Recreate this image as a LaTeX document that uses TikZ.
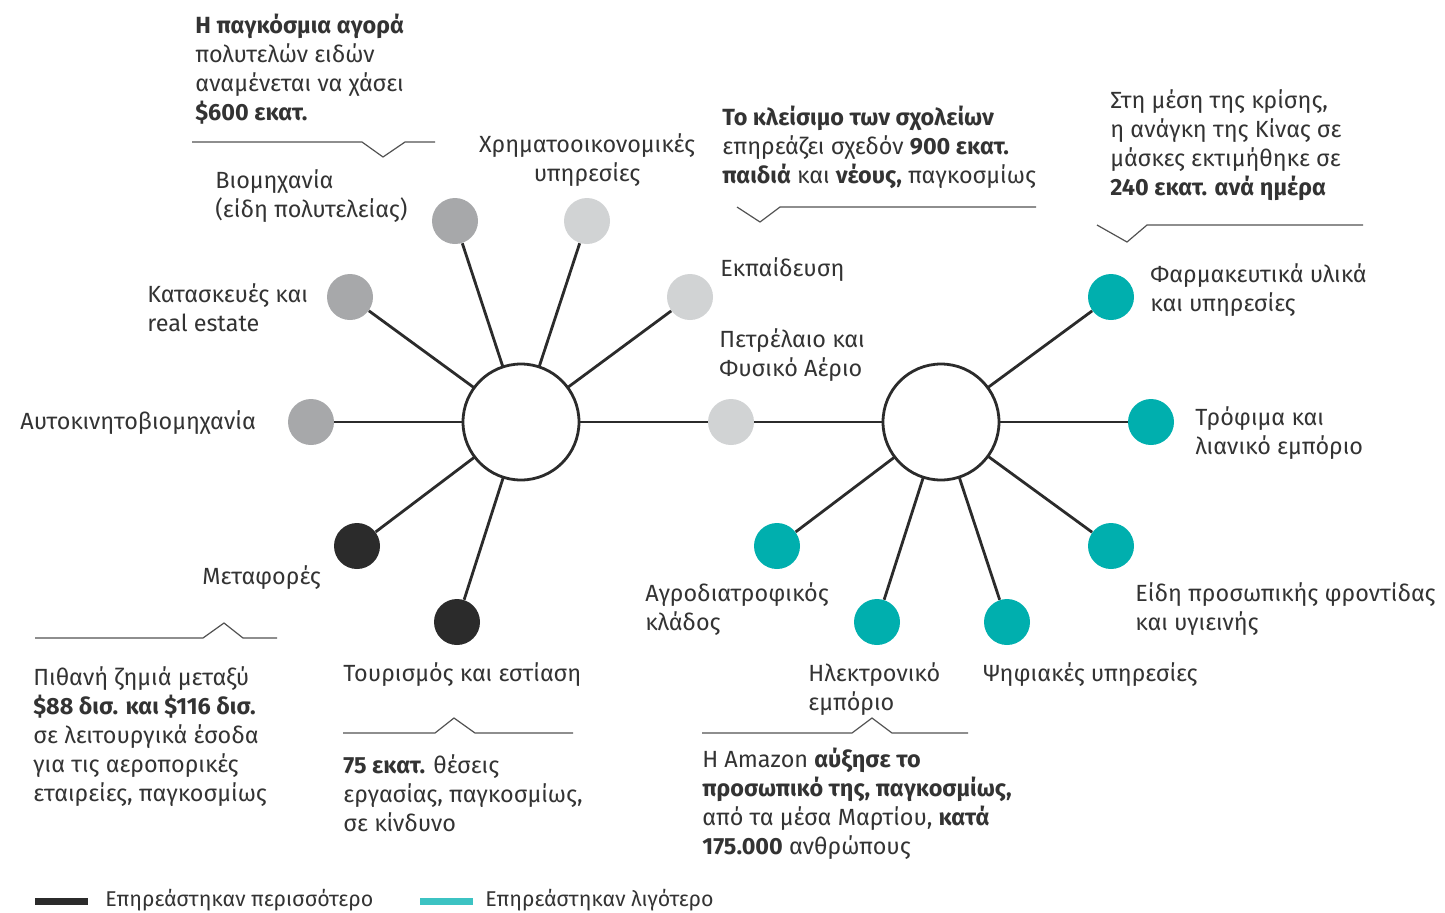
\documentclass[tikz,border=0pt]{standalone}
\usepackage{fontspec}
\setmainfont{Fira Sans}
\usepackage{tikz}
\usetikzlibrary{positioning}
\definecolor{ink}{HTML}{333333}
\definecolor{spoke}{HTML}{2B2B2B}
\definecolor{darkc}{HTML}{2B2B2B}
\definecolor{midgr}{HTML}{A7A8AA}
\definecolor{ltgr}{HTML}{D1D3D4}
\definecolor{tealc}{HTML}{00AFAE}
\definecolor{legteal}{HTML}{3CC3C3}
\tikzset{
  hub/.style={circle,draw=spoke,line width=1.4pt,fill=white,minimum size=58pt,inner sep=0pt},
  sector/.style={circle,minimum size=23pt,inner sep=0pt},
  worst/.style={sector,fill=darkc},
  hit/.style={sector,fill=midgr},
  mild/.style={sector,fill=ltgr},
  spared/.style={sector,fill=tealc},
  lbl/.style={anchor=north west,inner sep=0pt,align=left,text=ink,font=\fontsize{11.7}{14.5}\selectfont},
  line/.style={draw=spoke,line width=1.4pt},
  rule/.style={draw=ink!85,line width=0.6pt},
  key/.style={rectangle,inner sep=0pt,minimum width=26.5pt,minimum height=3.5pt},
  keytext/.style={lbl,anchor=west,font=\fontsize{10.7}{13}\selectfont},
}

\begin{document}
\begin{tikzpicture}[x=0.5pt,y=-0.5pt]
    \useasboundingbox (0,0) rectangle (1445,912);

    % spokes go first, hubs and sectors sit on top
    \coordinate (cL) at (521,422);
    \coordinate (cR) at (941,422);

    \node[hit] (auto) at (311,422) {};
    \node[hit] (constr) at (350,297) {};
    \node[hit] (lux) at (455,221) {};
    \node[mild] (fin) at (587,221) {};
    \node[mild] (edu) at (690,297) {};
    \node[mild] (oil) at (731,422) {};
    \node[worst] (trans) at (357,546) {};
    \node[worst] (tour) at (457,622) {};

    \node[spared] (pharma) at (1111,297) {};
    \node[spared] (food) at (1151,422) {};
    \node[spared] (care) at (1111,546) {};
    \node[spared] (agro) at (777,546) {};
    \node[spared] (ecom) at (877,622) {};
    \node[spared] (digi) at (1007,622) {};

    \begin{scope}[every path/.style=line]
      \path (cL) -- (auto);
      \path (cL) -- (constr);
      \path (cL) -- (lux);
      \path (cL) -- (fin);
      \path (cL) -- (edu);
      \path (cL) -- (oil);
      \path (cL) -- (trans);
      \path (cL) -- (tour);
      \path (oil) -- (cR);
      \path (cR) -- (pharma);
      \path (cR) -- (food);
      \path (cR) -- (care);
      \path (cR) -- (agro);
      \path (cR) -- (ecom);
      \path (cR) -- (digi);
    \end{scope}

    \node[hub] (hubL) at (cL) {};
    \node[hub] (hubR) at (cR) {};

    % sector names
    \node[lbl] (luxt) at (215,169) {Βιομηχανία\\(είδη πολυτελείας)};
    \node[lbl,anchor=north,align=center] (fint) at (587,133) {Χρηματοοικονομικές\\υπηρεσίες};
    \node[lbl] (edut) at (720,257) {Εκπαίδευση};
    \node[lbl] (constrt) at (147,283) {Κατασκευές και\\real estate};
    \node[lbl] (oilt) at (719,328) {Πετρέλαιο και\\Φυσικό Αέριο};
    \node[lbl] (autot) at (20,410) {Αυτοκινητοβιομηχανία};
    \node[lbl] (transt) at (202,565) {Μεταφορές};
    \node[lbl] (tourt) at (343,662) {Τουρισμός και εστίαση};
    \node[lbl] (pharmat) at (1150,263) {Φαρμακευτικά υλικά\\και υπηρεσίες};
    \node[lbl] (foodt) at (1195,406) {Τρόφιμα και\\λιανικό εμπόριο};
    \node[lbl] (caret) at (1135,582) {Είδη προσωπικής φροντίδας\\και υγιεινής};
    \node[lbl] (agrot) at (645,582) {Αγροδιατροφικός\\κλάδος};
    \node[lbl] (ecomt) at (808,662) {Ηλεκτρονικό\\εμπόριο};
    \node[lbl] (digit) at (983,662) {Ψηφιακές υπηρεσίες};

    % callouts
    \node[lbl] (luxnote) at (195,14) {\textbf{Η παγκόσμια αγορά}\\πολυτελών ειδών\\αναμένεται να χάσει\\\textbf{\$600 εκατ.}};
    \node[lbl] (edunote) at (722,106) {\textbf{Το κλείσιμο των σχολείων}\\επηρεάζει σχεδόν \textbf{900 εκατ.}\\\textbf{παιδιά} και \textbf{νέους,} παγκοσμίως};
    \node[lbl] (pharmanote) at (1110,89) {Στη μέση της κρίσης,\\η ανάγκη της Κίνας σε\\μάσκες εκτιμήθηκε σε\\\textbf{240 εκατ. ανά ημέρα}};
    \node[lbl] (transnote) at (33,666) {Πιθανή ζημιά μεταξύ\\\textbf{\$88 δισ. και \$116 δισ.}\\σε λειτουργικά έσοδα\\για τις αεροπορικές\\εταιρείες, παγκοσμίως};
    \node[lbl] (tournote) at (343,754) {\textbf{75 εκατ.} θέσεις\\εργασίας, παγκοσμίως,\\σε κίνδυνο};
    \node[lbl] (ecomnote) at (702,748) {Η Amazon \textbf{αύξησε το}\\\textbf{προσωπικό της, παγκοσμίως,}\\από τα μέσα Μαρτίου, \textbf{κατά}\\\textbf{175.000} ανθρώπους};

    \draw[rule] (192,142) -- (362,142) -- (383,157) -- (405,142) -- (435,142);
    \draw[rule] (737,207) -- (760,222) -- (780,207) -- (1036,207);
    \draw[rule] (1097,225) -- (1127,242) -- (1147,225) -- (1363,225);
    \draw[rule] (35,638) -- (203,638) -- (224,623) -- (243,638) -- (277,638);
    \draw[rule] (343,733) -- (435,733) -- (454,718) -- (475,733) -- (573,733);
    \draw[rule] (702,733) -- (852,733) -- (872,718) -- (892,733) -- (968,733);

    % legend
    \node[key,fill=darkc] (keymost) at (61.5,901) {};
    \node[keytext] (keymostt) at (105,900) {Επηρεάστηκαν περισσότερο};
    \node[key,fill=legteal] (keyless) at (446,901) {};
    \node[keytext] (keylesst) at (485,900) {Επηρεάστηκαν λιγότερο};
\end{tikzpicture}
\end{document}
